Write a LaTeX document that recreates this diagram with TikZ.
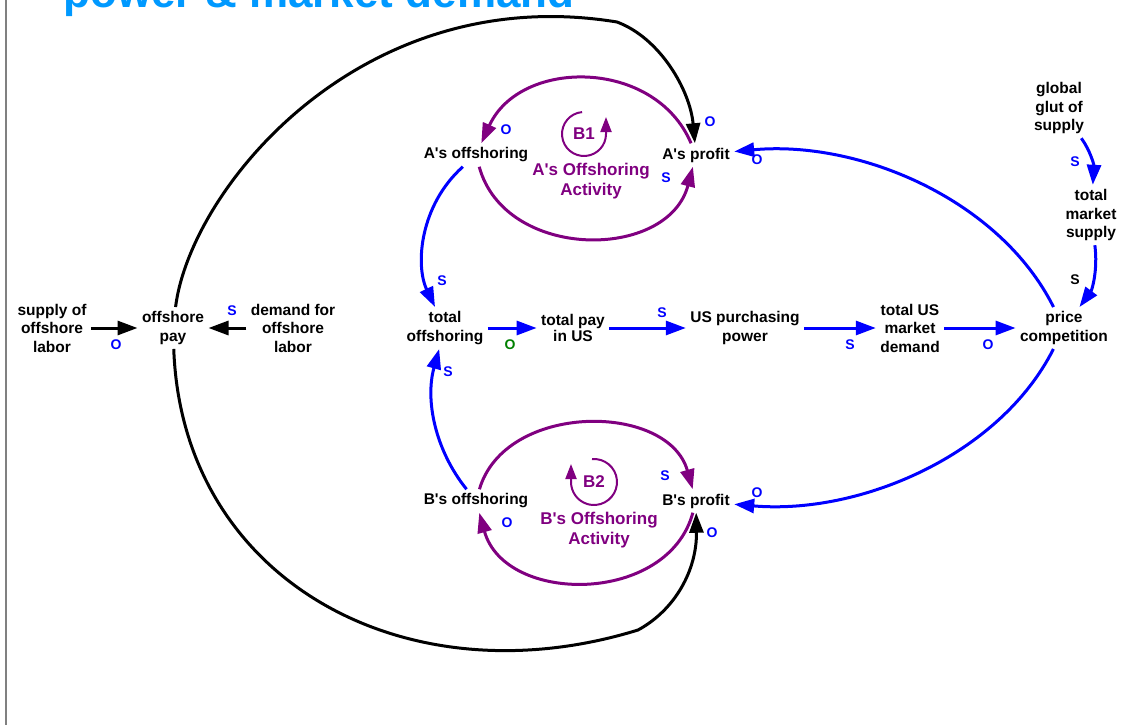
\documentclass[tikz,border=0pt]{standalone}
\usepackage{fontspec}
\setmainfont{Liberation Sans}
\usetikzlibrary{arrows.meta}

\definecolor{linkblue}{RGB}{0,0,255}
\definecolor{looppurple}{RGB}{128,0,128}
\definecolor{polgreen}{RGB}{0,128,0}
\definecolor{titleblue}{RGB}{0,153,255}

\newcommand{\q}{\textquotesingle}

\begin{document}
\begin{tikzpicture}[x=1pt,y=-1pt,
					line width=3pt,
					>={Triangle[length=20pt,width=14pt]},
					var node/.style={align=center,inner sep=3pt,font=\fontsize{15.5}{18.5}\selectfont\bfseries},
					pol node/.style={inner sep=0pt,text=linkblue,font=\fontsize{14}{14}\selectfont\bfseries},
					loop node/.style={align=center,text=looppurple,font=\fontsize{17}{19.5}\selectfont\bfseries},
					black link/.style={->,draw=black},
					blue link/.style={->,draw=linkblue},
					purple link/.style={->,draw=looppurple},
					loop mark/.style={draw=looppurple,line width=2pt,-{Triangle[length=15pt,width=11pt]}}]

  \useasboundingbox (0,0) rectangle (1124,725);
  \draw[gray,line width=2pt] (6,0) -- (6,725);
  \node[anchor=base west,inner sep=0pt,text=titleblue,font=\fontsize{44}{44}\selectfont\bfseries] (title) at (62,8) {power \& market demand};

  % variables
  \node[var node] (supply) at (52,328) {supply of\\offshore\\labor};
  \node[var node] (offpay) at (173,328) {offshore\\pay};
  \node[var node] (demand) at (293,328) {demand for\\offshore\\labor};
  \node[var node] (totoff) at (445,328) {total\\offshoring};
  \node[var node] (totpay) at (573,328) {total pay\\[-3pt]in US};
  \node[var node] (purch) at (745,328) {US purchasing\\power};
  \node[var node] (usdem) at (910,328) {total US\\market\\demand};
  \node[var node] (price) at (1064,328) {price\\competition};
  \node[var node] (glut) at (1059,108) {global\\glut of\\supply};
  \node[var node] (mktsup) at (1091,215) {total\\market\\supply};
  \node[var node] (aoff) at (476,155) {A\q s offshoring};
  \node[var node] (aprof) at (696,155) {A\q s profit};
  \node[var node] (boff) at (476,501) {B\q s offshoring};
  \node[var node] (bprof) at (696,501) {B\q s profit};

  % loops
  \node[loop node] (loopA) at (591,181) {A\q s Offshoring\\Activity};
  \node[loop node] (loopB) at (599,530) {B\q s Offshoring\\Activity};
  \node[loop node] (B1) at (584,134) {B1};
  \node[loop node] (B2) at (594,482) {B2};
  \draw[loop mark] ([shift={(265:22)}]B1.center) arc[start angle=265,end angle=0,radius=22] -- ++(0,-17);
  \draw[loop mark] ([shift={(-95:23)}]B2.center) arc[start angle=-95,end angle=180,radius=23] -- ++(0,-18);

  \coordinate (topbend) at (617,22);
  \coordinate (lowbend) at (638,630);

  % links
  \draw[black link] (supply) -- (offpay);
  \draw[black link] (demand) -- (offpay);
  \draw[black link] (offpay) .. controls (190,190) and (360,-20) .. (topbend)
                             .. controls (660,38) and (690,90) .. (aprof);
  \draw[black link] (offpay) .. controls (182,580) and (405,702) .. (lowbend)
                             .. controls (675,610) and (697,570) .. (bprof);

  \draw[blue link] (totoff) -- (totpay);
  \draw[blue link] (totpay) -- (purch);
  \draw[blue link] (purch) -- (usdem);
  \draw[blue link] (usdem) -- (price);
  \draw[blue link] (aoff) .. controls (420,205) and (415,265) .. (totoff);
  \draw[blue link] (boff) .. controls (435,450) and (425,400) .. (totoff);
  \draw[blue link] (price) .. controls (1000,200) and (860,140) .. (aprof);
  \draw[blue link] (price) .. controls (1000,455) and (860,515) .. (bprof);
  \draw[blue link] (glut) .. controls (1090,150) and (1094,165) .. (mktsup);
  \draw[blue link] (mktsup) .. controls (1098,270) and (1092,290) .. (price);

  \draw[purple link] (aprof) .. controls (655,58) and (520,58) .. (aoff);
  \draw[purple link] (aoff) .. controls (505,261) and (668,261) .. (aprof);
  \draw[purple link] (boff) .. controls (505,402) and (668,402) .. (bprof);
  \draw[purple link] (bprof) .. controls (668,605) and (505,605) .. (boff);

  % polarities
  \node[pol node] (p1) at (116,345) {O};
  \node[pol node] (p2) at (232,311) {S};
  \node[pol node] (p3) at (442,281) {S};
  \node[pol node] (p4) at (448,372) {S};
  \node[pol node,text=polgreen] (p5) at (510,345) {O};
  \node[pol node] (p6) at (662,313) {S};
  \node[pol node] (p7) at (850,345) {S};
  \node[pol node] (p8) at (988,345) {O};
  \node[pol node] (p9) at (1075,162) {S};
  \node[pol node,text=black] (p10) at (1075,280) {S};
  \node[pol node] (p11) at (710,122) {O};
  \node[pol node] (p12) at (757,160) {O};
  \node[pol node] (p13) at (506,130) {O};
  \node[pol node] (p14) at (666,178) {S};
  \node[pol node] (p15) at (665,476) {S};
  \node[pol node] (p16) at (507,523) {O};
  \node[pol node] (p17) at (757,493) {O};
  \node[pol node] (p18) at (712,533) {O};
\end{tikzpicture}
\end{document}
